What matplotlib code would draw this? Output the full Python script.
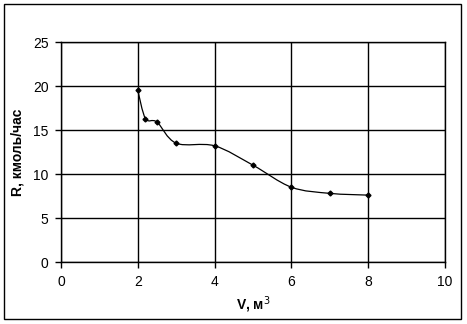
import matplotlib
matplotlib.use("Agg")
import matplotlib.pyplot as plt
import matplotlib.patches as mpatches
from matplotlib.path import Path
import numpy as np

# data
volume = [2.0, 2.2, 2.5, 3.0, 4.0, 5.0, 6.0, 7.0, 8.0]
rate = [19.5, 16.3, 15.9, 13.5, 13.2, 11.0, 8.5, 7.8, 7.6]
x_ticks = [0, 2, 4, 6, 8, 10]
y_ticks = [0, 5, 10, 15, 20, 25]

BLACK = "#000000"


def smooth_path(xs, ys, tension=1 / 6):
    """Excel-like smoothed line: cubic Bezier through every point."""
    pts = np.column_stack([xs, ys])
    verts = [pts[0]]
    codes = [Path.MOVETO]
    n = len(pts)
    for i in range(n - 1):
        p0 = pts[i - 1] if i > 0 else pts[i]
        p1 = pts[i]
        p2 = pts[i + 1]
        p3 = pts[i + 2] if i + 2 < n else pts[i + 1]
        c1 = p1 + (p2 - p0) * tension
        c2 = p2 - (p3 - p1) * tension
        verts += [c1, c2, p2]
        codes += [Path.CURVE4] * 3
    return Path(verts, codes)


plt.rcParams.update({
    "font.family": ["Liberation Sans", "DejaVu Sans"],
    "font.size": 10,
})

fig = plt.figure(figsize=(4.67, 3.24), dpi=100)
ax = fig.add_axes([61 / 467, 62 / 324, 384 / 467, 220 / 324])

ax.add_patch(mpatches.PathPatch(smooth_path(volume, rate), facecolor="none",
                                edgecolor=BLACK, linewidth=0.9, zorder=3))
ax.plot(volume, rate, linestyle="none", marker="D", markersize=2.5,
        color=BLACK, zorder=4)

ax.set_xlim(0, 10)
ax.set_ylim(0, 25)
ax.set_xticks(x_ticks)
ax.set_yticks(y_ticks)
ax.grid(True, color=BLACK, linewidth=1.0)
ax.set_axisbelow(True)
for s in ax.spines.values():
    s.set_color(BLACK)
    s.set_linewidth(1.0)
ax.tick_params(direction="out", length=4, width=1, colors=BLACK, pad=5)

ax.set_xlabel("V, м$^3$", fontweight="bold", labelpad=4)
ax.set_ylabel("R, кмоль/час", fontweight="bold", labelpad=6)

fig.add_artist(mpatches.Rectangle((4 / 467, 5 / 324), 457 / 467, 315 / 324,
                                  transform=fig.transFigure, fill=False,
                                  edgecolor=BLACK, linewidth=1.0))

fig.savefig("out.png", dpi=100)
